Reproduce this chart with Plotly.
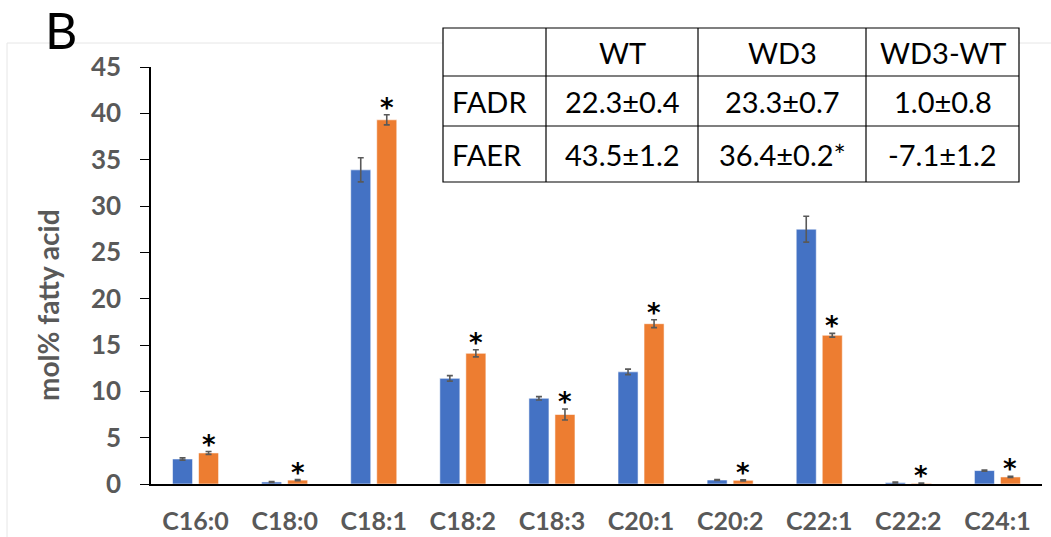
import plotly.graph_objects as go

# Fatty acid composition (mol%) of wild type vs. WD3 line
categories = ["C16:0", "C18:0", "C18:1", "C18:2", "C18:3",
              "C20:1", "C20:2", "C22:1", "C22:2", "C24:1"]
wt_values = [2.7, 0.22, 33.9, 11.4, 9.25, 12.1, 0.43, 27.5, 0.15, 1.45]
wt_errors = [0.12, 0.05, 1.3, 0.3, 0.18, 0.3, 0.06, 1.4, 0.05, 0.06]
wd3_values = [3.35, 0.42, 39.3, 14.1, 7.5, 17.3, 0.4, 16.05, 0.07, 0.76]
wd3_errors = [0.15, 0.06, 0.55, 0.38, 0.6, 0.43, 0.06, 0.2, 0.04, 0.06]
wd3_significant = [True] * 10

y_ticks = [0, 5, 10, 15, 20, 25, 30, 35, 40, 45]

# Desaturation / elongation ratios table
table_header = ["", "WT", "WD3", "WD3-WT"]
table_rows = [
    ["FADR", "22.3\u00b10.4", "23.3\u00b10.7", "1.0\u00b10.8"],
    ["FAER", "43.5\u00b11.2", "36.4\u00b10.2*", "-7.1\u00b11.2"],
]

BLUE = "#4472C4"
ORANGE = "#ED7D31"
GREY = "#595959"
FONT = "Lato"

# Plot area in pixels (canvas 1051 x 537)
L, R, T, B = 151, 1042, 67, 484
W, H = R - L, B - T


def px(x):
    return (x - L) / W


def py(y):
    return (B - y) / H


BARGAP = 0.416
fig = go.Figure()
fig.add_trace(go.Bar(
    x=categories, y=wt_values, name="WT",
    marker=dict(color=BLUE, line=dict(color="rgba(255,255,255,0.55)", width=1)),
    error_y=dict(type="data", array=wt_errors, color=GREY, thickness=1.6, width=3),
))
fig.add_trace(go.Bar(
    x=categories, y=wd3_values, name="WD3",
    marker=dict(color=ORANGE, line=dict(color="rgba(255,255,255,0.55)", width=1)),
    error_y=dict(type="data", array=wd3_errors, color=GREY, thickness=1.6, width=3),
))

# significance stars above the WD3 bars
slot = (1 - BARGAP) / 2
for i, (v, e, sig) in enumerate(zip(wd3_values, wd3_errors, wd3_significant)):
    if sig:
        fig.add_annotation(x=i + slot / 2, y=v + e, text="*", showarrow=False,
                           xref="x", yref="y", yanchor="middle", yshift=7,
                           font=dict(family="DejaVu Sans", size=26, color="black",
                                     weight="bold"))

shapes = []
# outer chart frame
shapes.append(dict(type="rect", xref="paper", yref="paper",
                   x0=px(7), x1=px(1060), y0=py(570), y1=py(43),
                   line=dict(color="#e6e6e6", width=1), layer="below"))

# table
tx = [443, 546, 698, 866, 1019]
ty = [28, 76, 126, 182]
shapes.append(dict(type="rect", xref="paper", yref="paper",
                   x0=px(tx[0]), x1=px(tx[-1]), y0=py(ty[-1]), y1=py(ty[0]),
                   fillcolor="white", line=dict(color="black", width=1.2), layer="above"))
for x in tx[1:-1]:
    shapes.append(dict(type="line", xref="paper", yref="paper",
                       x0=px(x), x1=px(x), y0=py(ty[-1]), y1=py(ty[0]),
                       line=dict(color="black", width=1.2)))
for y in ty[1:-1]:
    shapes.append(dict(type="line", xref="paper", yref="paper",
                       x0=px(tx[0]), x1=px(tx[-1]), y0=py(y), y1=py(y),
                       line=dict(color="black", width=1.2)))

rows = [table_header] + table_rows
for r, row in enumerate(rows):
    yc = (ty[r] + ty[r + 1]) / 2
    for c, txt in enumerate(row):
        if not txt:
            continue
        if c == 0:
            fig.add_annotation(x=px(tx[0] + 7), y=py(yc), xref="paper", yref="paper",
                               text=txt, showarrow=False, xanchor="left", yanchor="middle",
                               font=dict(family=FONT, size=29, color="black"))
        else:
            fig.add_annotation(x=px((tx[c] + tx[c + 1]) / 2), y=py(yc),
                               xref="paper", yref="paper", text=txt, showarrow=False,
                               xanchor="center", yanchor="middle",
                               font=dict(family=FONT, size=29, color="black"))

# panel letter
fig.add_annotation(x=px(61), y=py(30), xref="paper", yref="paper", text="B",
                   showarrow=False, xanchor="center", yanchor="middle",
                   font=dict(family=FONT, size=50, color="black"))

# y-axis title
fig.add_annotation(x=px(48), y=py(305), xref="paper", yref="paper",
                   text="mol% fatty acid", textangle=-90, showarrow=False,
                   xanchor="center", yanchor="middle",
                   font=dict(family=FONT, size=28, color=GREY, weight="bold"))

fig.update_layout(
    width=1051, height=537,
    margin=dict(l=L, r=1051 - R, t=T, b=537 - B),
    paper_bgcolor="white", plot_bgcolor="white",
    barmode="group", bargap=BARGAP, bargroupgap=0.23,
    showlegend=False,
    shapes=shapes,
    font=dict(family=FONT),
)
fig.update_xaxes(
    automargin=False,
    showline=True, linecolor="black", linewidth=1.5, ticks="",
    tickfont=dict(family=FONT, size=25, color=GREY, weight="bold"),
    ticklabelstandoff=14,
    showgrid=False, zeroline=False,
)
fig.update_yaxes(
    automargin=False,
    range=[0, 45], tickvals=y_ticks, showline=True, linecolor="black", linewidth=1.5,
    ticks="outside", ticklen=9, tickcolor="black", tickwidth=1.2,
    tickfont=dict(family=FONT, size=26, color=GREY, weight="bold"),
    ticklabelstandoff=14,
    showgrid=False, zeroline=False,
)

fig.write_html("out.html")
